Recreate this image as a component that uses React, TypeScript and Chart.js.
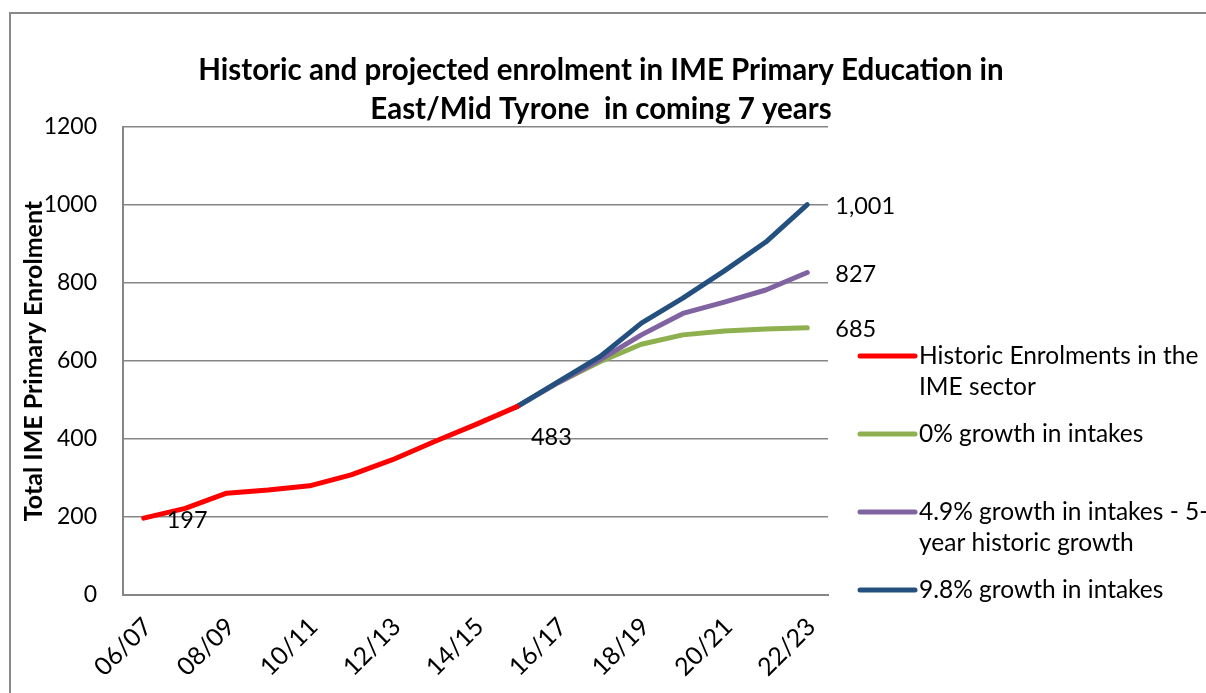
import { useEffect, useRef } from 'react';
import { Chart, registerables } from 'chart.js';

Chart.register(...registerables);

const FONT = 'Lato, "Open Sans", "DejaVu Sans", sans-serif';

const titleLines = [
  'Historic and projected enrolment in IME Primary Education in',
  'East/Mid Tyrone  in coming 7 years',
];
const yAxisTitle = 'Total IME Primary Enrolment';

const categories = [
  '06/07', '07/08', '08/09', '09/10', '10/11', '11/12', '12/13', '13/14', '14/15',
  '15/16', '16/17', '17/18', '18/19', '19/20', '20/21', '21/22', '22/23',
];

const historic = [197, 222, 261, 269, 280, 308, 347, 393, 437, 483, null, null, null, null, null, null, null];
const growth0 = [null, null, null, null, null, null, null, null, null, 483, 545, 598, 643, 667, 677, 682, 685];
const growth49 = [null, null, null, null, null, null, null, null, null, 483, 545, 603, 667, 722, 751, 782, 827];
const growth98 = [null, null, null, null, null, null, null, null, null, 483, 547, 611, 697, 761, 831, 905, 1001];

const seriesLabels = [
  'Historic Enrolments in the IME sector',
  '0% growth in intakes',
  '4.9% growth in intakes - 5-year historic growth',
  '9.8% growth in intakes',
];
const legendLines = [
  ['Historic Enrolments in the', 'IME sector'],
  ['0% growth in intakes'],
  ['4.9% growth in intakes - 5-', 'year historic growth'],
  ['9.8% growth in intakes'],
];
const seriesColors = ['#FF0000', '#8EB04F', '#8064A2', '#24507F'];
const seriesOrder = [0, 3, 2, 1];

const yMin = 0;
const yMax = 1200;
const yStep = 200;

// which points carry a value label: [dataset, index, dx, dy]
const valueLabels: [number, number, number, number][] = [
  [0, 0, 23, 2],
  [0, 9, 14, 31],
  [3, 16, 28, 2],
  [2, 16, 28, 2],
  [1, 16, 28, 2],
];

const framePlugin = {
  id: 'frame',
  beforeDraw(chart: any) {
    const { ctx } = chart;
    ctx.save();
    ctx.strokeStyle = '#888888';
    ctx.lineWidth = 2;
    ctx.beginPath();
    ctx.moveTo(10, chart.height);
    ctx.lineTo(10, 13);
    ctx.lineTo(chart.width, 13);
    ctx.stroke();
    ctx.restore();
  },
};

const titlePlugin = {
  id: 'customTitle',
  afterDraw(chart: any) {
    const { ctx } = chart;
    ctx.save();
    ctx.fillStyle = '#000';
    ctx.font = `bold 29.5px ${FONT}`;
    ctx.textAlign = 'center';
    ctx.textBaseline = 'middle';
    titleLines.forEach((t, i) => ctx.fillText(t, 601, 70 + i * 39));
    ctx.restore();
  },
};

const valueLabelPlugin = {
  id: 'valueLabels',
  afterDatasetsDraw(chart: any) {
    const { ctx } = chart;
    ctx.save();
    ctx.fillStyle = '#000';
    ctx.font = `23.5px ${FONT}`;
    ctx.textAlign = 'left';
    ctx.textBaseline = 'middle';
    valueLabels.forEach(([ds, idx, dx, dy]) => {
      const pt = chart.getDatasetMeta(ds).data[idx];
      const v = chart.data.datasets[ds].data[idx] as number;
      ctx.fillText(v.toLocaleString('en-US'), pt.x + dx, pt.y + dy);
    });
    ctx.restore();
  },
};

const legendPlugin = {
  id: 'customLegend',
  afterDraw(chart: any) {
    const { ctx } = chart;
    const area = chart.chartArea;
    ctx.save();
    ctx.font = `24.5px ${FONT}`;
    ctx.textAlign = 'left';
    ctx.textBaseline = 'middle';
    const x0 = area.right + 32;
    const startY = 356;
    const step = 78;
    legendLines.forEach((lines, i) => {
      const y = startY + i * step;
      ctx.strokeStyle = seriesColors[i];
      ctx.lineWidth = 5;
      ctx.lineCap = 'round';
      ctx.beginPath();
      ctx.moveTo(x0, y);
      ctx.lineTo(x0 + 55, y);
      ctx.stroke();
      ctx.fillStyle = '#000';
      lines.forEach((l, j) => ctx.fillText(l, x0 + 59, y + j * 31));
    });
    ctx.restore();
  },
};

export default function App() {
  const ref = useRef<HTMLCanvasElement>(null);
  useEffect(() => {
    const seriesData = [historic, growth0, growth49, growth98];
    const chart = new Chart(ref.current as HTMLCanvasElement, {
      type: 'line',
      data: {
        labels: categories,
        datasets: seriesData.map((d, i) => ({
          label: seriesLabels[i],
          data: d,
          borderColor: seriesColors[i],
          backgroundColor: seriesColors[i],
          borderWidth: 5,
          pointRadius: 0,
          borderCapStyle: 'round',
          borderJoinStyle: 'round',
          tension: 0,
          spanGaps: false,
          order: seriesOrder[i],
        })),
      },
      options: {
        responsive: false,
        animation: false,
        devicePixelRatio: 1,
        layout: { padding: { left: 0, right: 378, top: 127, bottom: 0 } },
        plugins: {
          legend: { display: false },
          title: { display: false },
          tooltip: { enabled: false },
        },
        scales: {
          x: {
            type: 'category',
            offset: true,
            grid: { display: false, drawTicks: false },
            border: { display: true, color: '#868686', width: 2 },
            ticks: {
              autoSkip: false,
              maxRotation: 45,
              minRotation: 45,
              padding: 17,
              labelOffset: 4,
              color: '#000',
              font: { family: FONT, size: 25 },
              callback: (_v: any, i: number) => (i % 2 === 0 ? categories[i] : ''),
            },
            afterFit: (s: any) => {
              s.height = 98;
            },
          },
          y: {
            min: yMin,
            max: yMax,
            ticks: {
              stepSize: yStep,
              padding: 26,
              color: '#000',
              font: { family: FONT, size: 23 },
              callback: (v: any) => String(v),
            },
            grid: { color: '#868686', lineWidth: 1.5, drawTicks: false },
            border: { display: true, color: '#868686', width: 2 },
            title: {
              display: true,
              text: yAxisTitle,
              color: '#000',
              font: { family: FONT, size: 25, weight: 'bold' },
              padding: { top: 19, bottom: 0 },
            },
            afterFit: (s: any) => {
              s.width = 123;
            },
          },
        },
      },
      plugins: [framePlugin, titlePlugin, valueLabelPlugin, legendPlugin],
    } as any);
    return () => chart.destroy();
  }, []);
  return (
    <div style={{ position: 'fixed', left: 0, top: 0, width: 1206, height: 693, background: '#fff' }}>
      <canvas ref={ref} width={1206} height={693} />
    </div>
  );
}
